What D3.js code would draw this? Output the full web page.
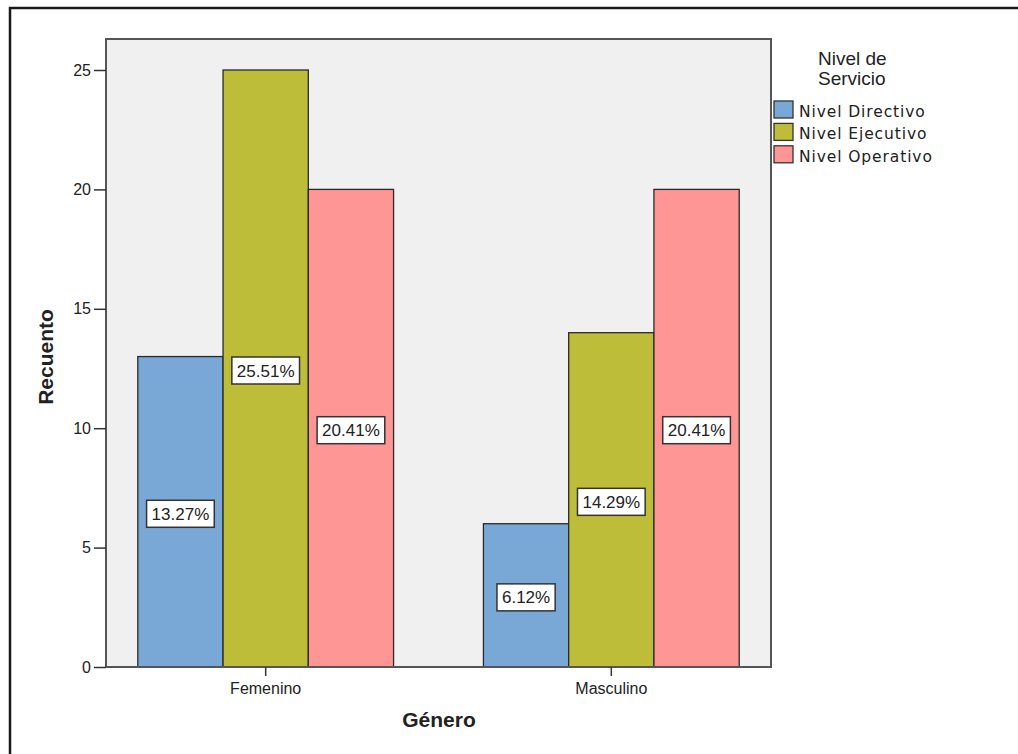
<!DOCTYPE html>
<html>
<head>
<meta charset="utf-8">
<script src="https://cdn.jsdelivr.net/npm/d3@7/dist/d3.min.js"></script>
<style>
  html, body { margin: 0; padding: 0; background: #fff; }
  svg { display: block; }
  text { font-family: "Liberation Sans", Arial, sans-serif; fill: #222; }
</style>
</head>
<body>
<svg id="chart" width="1018" height="754"></svg>
<script>
// Counts by gender and service level
const categories = ["Femenino", "Masculino"];
const series = ["Nivel Directivo", "Nivel Ejecutivo", "Nivel Operativo"];
const directivo = [13, 6];
const ejecutivo = [25, 14];
const operativo = [20, 20];
const yTicks = [0, 5, 10, 15, 20, 25];
const colors = ["#79a8d7", "#bdbd3a", "#fe9696"];

const values = [directivo, ejecutivo, operativo];
const total = d3.sum(values, v => d3.sum(v));
const rows = [];
categories.forEach((c, ci) => {
  series.forEach((s, si) => rows.push({ cat: c, ser: s, si, value: values[si][ci] }));
});

const svg = d3.select("#chart");

// frame of the output window (top and left edges)
svg.append("path")
  .attr("d", "M10,754 V8 H1018")
  .attr("fill", "none")
  .attr("stroke", "#1a1a1a")
  .attr("stroke-width", 2.5);

const plot = { left: 106, top: 39, right: 771, bottom: 667 };

const x = d3.scaleBand()
  .domain(categories)
  .range([plot.left, plot.right])
  .paddingInner(0.26)
  .paddingOuter(0.092);

const xs = d3.scaleBand()
  .domain(series)
  .range([0, x.bandwidth()]);

const y = d3.scaleLinear()
  .domain([0, 25])
  .range([plot.bottom, 70]);

// plot background
svg.append("rect")
  .attr("x", plot.left).attr("y", plot.top)
  .attr("width", plot.right - plot.left)
  .attr("height", plot.bottom - plot.top)
  .attr("fill", "#f0f0f0");

// bars
svg.append("g").selectAll("rect")
  .data(rows)
  .join("rect")
  .attr("x", d => x(d.cat) + xs(d.ser))
  .attr("y", d => y(d.value))
  .attr("width", xs.bandwidth())
  .attr("height", d => y(0) - y(d.value))
  .attr("fill", d => colors[d.si])
  .attr("stroke", "#2a2a2a")
  .attr("stroke-width", 1.3);

// percentage labels in white boxes, placed at half the bar height
const fmt = d3.format(".2f");
const lab = svg.append("g").selectAll("g")
  .data(rows)
  .join("g")
  .attr("transform", d => `translate(${x(d.cat) + xs(d.ser) + xs.bandwidth() / 2},${y(d.value / 2) + 2})`);
lab.append("rect").attr("fill", "#fff").attr("stroke", "#333").attr("stroke-width", 1.5);
lab.append("text")
  .attr("text-anchor", "middle")
  .attr("dy", "0.36em")
  .style("font-size", "17px")
  .text(d => fmt(d.value / total * 100) + "%");
lab.each(function () {
  const g = d3.select(this);
  const w = g.select("text").node().getComputedTextLength() + 10;
  g.select("rect").attr("x", -w / 2).attr("y", -13.5).attr("width", w).attr("height", 27);
});

// plot frame
svg.append("rect")
  .attr("x", plot.left).attr("y", plot.top)
  .attr("width", plot.right - plot.left)
  .attr("height", plot.bottom - plot.top)
  .attr("fill", "none")
  .attr("stroke", "#555")
  .attr("stroke-width", 2);

// y axis
const yAxis = svg.append("g")
  .attr("transform", `translate(${plot.left},0)`)
  .call(d3.axisLeft(y).tickValues(yTicks).tickSize(12).tickPadding(3));
yAxis.select(".domain").remove();
yAxis.selectAll("line").attr("stroke", "#333").attr("stroke-width", 1.5);
yAxis.selectAll("text").style("font-size", "16px").style("font-family", "'Liberation Sans', Arial, sans-serif").attr("fill", "#222");

// x axis
const xAxis = svg.append("g")
  .attr("transform", `translate(0,${plot.bottom})`)
  .call(d3.axisBottom(x).tickSize(9).tickPadding(7));
xAxis.select(".domain").remove();
xAxis.selectAll("line").attr("stroke", "#333").attr("stroke-width", 1.5);
xAxis.selectAll("text").style("font-size", "16px").style("font-family", "'Liberation Sans', Arial, sans-serif").attr("fill", "#222");

// axis titles
svg.append("text")
  .attr("transform", "translate(53,357) rotate(-90)")
  .attr("text-anchor", "middle")
  .style("font-size", "21px").style("font-weight", "bold")
  .text("Recuento");
svg.append("text")
  .attr("x", 439).attr("y", 727)
  .attr("text-anchor", "middle")
  .style("font-size", "21px").style("font-weight", "bold")
  .text("Género");

// legend
const legend = svg.append("g");
legend.append("text").attr("x", 818).attr("y", 65).style("font-size", "19px").attr("fill", "#333").text("Nivel de");
legend.append("text").attr("x", 818).attr("y", 85).style("font-size", "19px").attr("fill", "#333").text("Servicio");
const item = legend.selectAll("g.item")
  .data(series)
  .join("g")
  .attr("class", "item")
  .attr("transform", (d, i) => `translate(774,${101 + i * 22.4})`);
item.append("rect")
  .attr("width", 19).attr("height", 17)
  .attr("fill", (d, i) => colors[i])
  .attr("stroke", "#333").attr("stroke-width", 1.3);
item.append("text")
  .attr("x", 25).attr("y", 16)
  .style("font-family", "'DejaVu Sans', Verdana, sans-serif")
  .style("font-size", "15.5px")
  .style("letter-spacing", "0.9px")
  .text(d => d);
</script>
</body>
</html>
